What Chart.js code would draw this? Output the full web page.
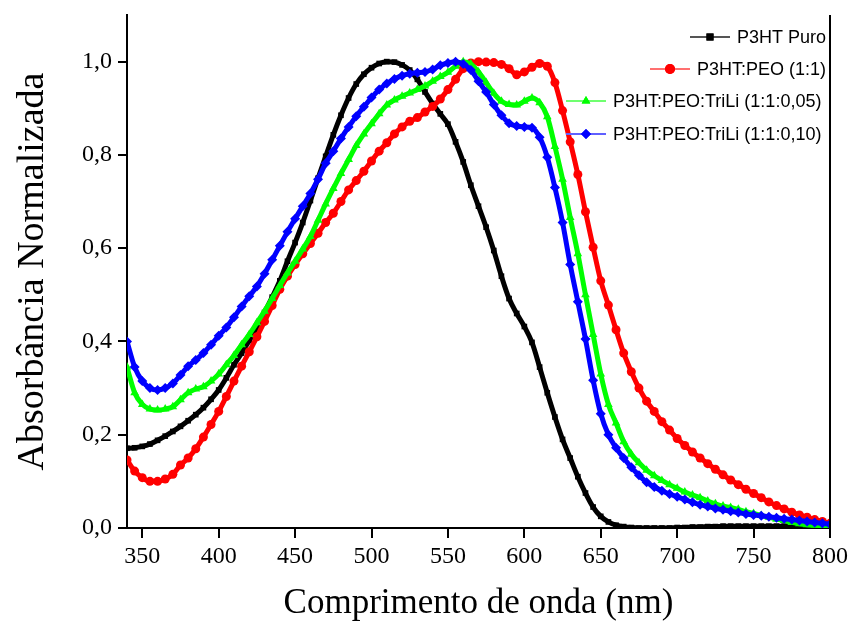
<!DOCTYPE html>
<html>
<head>
<meta charset="utf-8">
<script src="https://cdn.jsdelivr.net/npm/chart.js@4.4.0/dist/chart.umd.min.js"></script>
<style>
    html, body { margin: 0; padding: 0; background: #fff; }
    #wrap { width: 853px; height: 633px; }
</style>
</head>
<body>
<div id="wrap"><canvas id="chartCanvas" width="853" height="633"></canvas></div>
<script>
// wavelength (nm)
const wavelength = [
    340, 345, 350, 355, 360, 365, 370, 375, 380, 385,
    390, 395, 400, 405, 410, 415, 420, 425, 430, 435,
    440, 445, 450, 455, 460, 465, 470, 475, 480, 485,
    490, 495, 500, 505, 510, 515, 520, 525, 530, 535,
    540, 545, 550, 555, 560, 565, 570, 575, 580, 585,
    590, 595, 600, 605, 610, 615, 620, 625, 630, 635,
    640, 645, 650, 655, 660, 665, 670, 675, 680, 685,
    690, 695, 700, 705, 710, 715, 720, 725, 730, 735,
    740, 745, 750, 755, 760, 765, 770, 775, 780, 785,
    790, 795, 800
];

const p3htPuro = [
    0.171, 0.172, 0.175, 0.180, 0.188, 0.197, 0.207, 0.218, 0.230, 0.243,
    0.258, 0.276, 0.296, 0.322, 0.350, 0.375, 0.402, 0.430, 0.462, 0.495,
    0.530, 0.572, 0.612, 0.655, 0.702, 0.750, 0.797, 0.843, 0.885, 0.922,
    0.952, 0.973, 0.987, 0.996, 1.000, 0.999, 0.993, 0.982, 0.962, 0.935,
    0.910, 0.888, 0.866, 0.828, 0.785, 0.735, 0.690, 0.645, 0.595, 0.540,
    0.492, 0.460, 0.432, 0.398, 0.345, 0.290, 0.238, 0.190, 0.150, 0.110,
    0.075, 0.045, 0.025, 0.013, 0.006, 0.003, 0.001, 0.000, 0.000, 0.000,
    0.000, 0.000, 0.001, 0.001, 0.002, 0.002, 0.003, 0.003, 0.004, 0.004,
    0.004, 0.004, 0.004, 0.004, 0.004, 0.004, 0.004, 0.003, 0.002, 0.001,
    0.001, 0.000, 0.000
];

const p3htPeo = [
    0.146, 0.122, 0.108, 0.100, 0.100, 0.105, 0.115, 0.135, 0.150, 0.170,
    0.195, 0.222, 0.250, 0.282, 0.315, 0.347, 0.378, 0.410, 0.443, 0.477,
    0.512, 0.540, 0.565, 0.588, 0.610, 0.632, 0.655, 0.675, 0.700, 0.725,
    0.745, 0.765, 0.787, 0.808, 0.826, 0.845, 0.860, 0.872, 0.880, 0.892,
    0.904, 0.920, 0.940, 0.962, 0.985, 0.997, 1.000, 0.999, 0.998, 0.994,
    0.985, 0.972, 0.978, 0.988, 0.996, 0.990, 0.955, 0.895, 0.828, 0.758,
    0.678, 0.602, 0.530, 0.478, 0.425, 0.375, 0.335, 0.300, 0.272, 0.250,
    0.228, 0.210, 0.192, 0.177, 0.163, 0.150, 0.138, 0.126, 0.114, 0.103,
    0.093, 0.083, 0.074, 0.065, 0.056, 0.048, 0.041, 0.034, 0.028, 0.023,
    0.018, 0.014, 0.010
];

const p3htTriLi005 = [
    0.345, 0.290, 0.265, 0.255, 0.253, 0.255, 0.260, 0.275, 0.290, 0.298,
    0.303, 0.315, 0.330, 0.350, 0.370, 0.393, 0.415, 0.440, 0.465, 0.492,
    0.520, 0.547, 0.572, 0.598, 0.625, 0.660, 0.695, 0.728, 0.760, 0.790,
    0.820, 0.845, 0.867, 0.888, 0.907, 0.918, 0.926, 0.933, 0.940, 0.948,
    0.958, 0.968, 0.977, 0.990, 1.000, 0.995, 0.978, 0.955, 0.932, 0.915,
    0.908, 0.907, 0.915, 0.922, 0.912, 0.882, 0.818, 0.748, 0.666, 0.588,
    0.500, 0.415, 0.330, 0.265, 0.225, 0.185, 0.158, 0.140, 0.124, 0.112,
    0.102, 0.093, 0.085, 0.077, 0.071, 0.065, 0.058, 0.052, 0.047, 0.044,
    0.040, 0.035, 0.031, 0.027, 0.023, 0.019, 0.016, 0.012, 0.009, 0.007,
    0.006, 0.005, 0.004
];

const p3htTriLi010 = [
    0.400, 0.345, 0.315, 0.300, 0.296, 0.300, 0.310, 0.328, 0.347, 0.360,
    0.375, 0.393, 0.412, 0.430, 0.452, 0.475, 0.497, 0.518, 0.545, 0.575,
    0.605, 0.635, 0.663, 0.690, 0.717, 0.748, 0.782, 0.808, 0.835, 0.860,
    0.883, 0.903, 0.923, 0.940, 0.953, 0.963, 0.970, 0.974, 0.976, 0.978,
    0.983, 0.992, 0.997, 1.000, 0.995, 0.982, 0.958, 0.935, 0.908, 0.885,
    0.868, 0.862, 0.860, 0.858, 0.838, 0.795, 0.730, 0.655, 0.565, 0.485,
    0.405, 0.317, 0.245, 0.200, 0.172, 0.150, 0.130, 0.113, 0.098, 0.088,
    0.080, 0.073, 0.067, 0.061, 0.055, 0.050, 0.046, 0.042, 0.039, 0.036,
    0.033, 0.030, 0.028, 0.026, 0.024, 0.022, 0.020, 0.018, 0.016, 0.014,
    0.012, 0.010, 0.008
];

const seriesNames = ['P3HT Puro', 'P3HT:PEO (1:1)', 'P3HT:PEO:TriLi (1:1:0,05)', 'P3HT:PEO:TriLi (1:1:0,10)'];
const xTicks = [350, 400, 450, 500, 550, 600, 650, 700, 750, 800];
const yTicks = [0, 0.2, 0.4, 0.6, 0.8, 1.0];

const serif = "'Liberation Serif', 'Times New Roman', serif";
const sans = "'Liberation Sans', Arial, sans-serif";

function toPoints(values) {
    return wavelength.map((w, i) => ({ x: w, y: values[i] }));
}

function makeDataset(label, values, color, legendColor, pointStyle, radius, order) {
    return {
        label,
        data: toPoints(values),
        borderColor: color,
        backgroundColor: color,
        legendColor,
        borderWidth: 5,
        pointStyle,
        pointRadius: radius,
        pointBorderWidth: 0,
        pointBackgroundColor: color,
        cubicInterpolationMode: 'monotone',
        order
    };
}

// right border line + legend drawn by hand (rows are indented like the original)
const framePlugin = {
    id: 'framePlugin',
    afterDraw(chart) {
        const { ctx, chartArea } = chart;
        ctx.save();
        ctx.strokeStyle = '#000';
        ctx.lineWidth = 2;
        ctx.beginPath();
        ctx.moveTo(chartArea.right, chartArea.top);
        ctx.lineTo(chartArea.right, chartArea.bottom);
        ctx.stroke();

        ctx.font = '18px ' + sans;
        ctx.textBaseline = 'middle';
        ctx.textAlign = 'left';
        const rowY = [37, 69, 101, 134];
        const textX = [737, 697, 613, 613];
        chart.data.datasets.forEach((ds, i) => {
            const y = rowY[i];
            const x1 = textX[i] - 7;
            const x0 = x1 - 40;
            ctx.strokeStyle = ds.legendColor;
            ctx.lineWidth = 2;
            ctx.beginPath();
            ctx.moveTo(x0, y);
            ctx.lineTo(x1, y);
            ctx.stroke();
            ctx.fillStyle = ds.borderColor;
            Chart.helpers.drawPoint(ctx, { pointStyle: ds.pointStyle, radius: 5, rotation: 0, borderWidth: 0 }, (x0 + x1) / 2, y);
            ctx.fill();
            ctx.fillStyle = '#000';
            ctx.fillText(ds.label, textX[i], y + 1);
        });
        ctx.restore();
    }
};

const datasets = [
    makeDataset(seriesNames[0], p3htPuro, '#000000', '#555555', 'rect', 4, 3),
    makeDataset(seriesNames[1], p3htPeo, '#ff0000', '#ff7070', 'circle', 4.5, 2),
    makeDataset(seriesNames[2], p3htTriLi005, '#00ff00', '#70ff70', 'triangle', 5, 1),
    makeDataset(seriesNames[3], p3htTriLi010, '#0000ff', '#6060ff', 'rectRot', 5, 0)
];

const chart = new Chart(document.getElementById('chartCanvas').getContext('2d'), {
    type: 'line',
    data: { datasets },
    options: {
        responsive: false,
        animation: false,
        devicePixelRatio: 1,
        layout: { padding: { left: 0, right: 23, top: 15, bottom: 0 } },
        scales: {
            x: {
                type: 'linear',
                min: 340,
                max: 800,
                afterBuildTicks: s => { s.ticks = xTicks.map(v => ({ value: v })); },
                afterFit: s => { s.height = 105; },
                grid: { drawOnChartArea: false, drawTicks: true, tickLength: 10, color: '#000', lineWidth: 2 },
                border: { display: true, color: '#000', width: 2 },
                ticks: {
                    color: '#000',
                    font: { family: serif, size: 24 },
                    padding: 4,
                    maxRotation: 0,
                    callback: v => String(v)
                },
                title: {
                    display: true,
                    text: 'Comprimento de onda (nm)',
                    color: '#000',
                    font: { family: serif, size: 35 },
                    padding: { top: 0, bottom: 8 }
                }
            },
            y: {
                min: 0,
                max: 1.1,
                afterBuildTicks: s => { s.ticks = yTicks.map(v => ({ value: v })); },
                afterFit: s => { s.width = 127; s.paddingTop = 0; s.paddingBottom = 0; },
                grid: { drawOnChartArea: false, drawTicks: true, tickLength: 9, color: '#000', lineWidth: 2 },
                border: { display: true, color: '#000', width: 2 },
                ticks: {
                    color: '#000',
                    font: { family: serif, size: 24 },
                    padding: 6,
                    callback: v => v.toFixed(1).replace('.', ',')
                },
                title: {
                    display: true,
                    text: 'Absorbância Normalizada',
                    color: '#000',
                    font: { family: serif, size: 38 },
                    padding: { top: 10, bottom: 0 }
                }
            }
        },
        plugins: {
            legend: { display: false },
            tooltip: { enabled: false }
        }
    },
    plugins: [framePlugin]
});
</script>
</body>
</html>
